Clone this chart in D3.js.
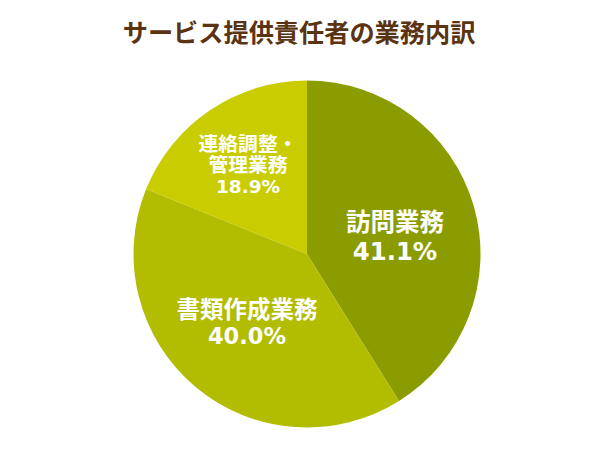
<!DOCTYPE html>
<html><head><meta charset="utf-8">
<script src="https://cdn.jsdelivr.net/npm/d3@7"></script>
<style>body{margin:0;background:#fff}svg{display:block}</style>
</head><body>
<svg id="c" width="600" height="450"></svg>
<script>
const title = "サービス提供責任者の業務内訳";
const categories = ["訪問業務", "書類作成業務", "連絡調整・管理業務"];
const labelLines = [["訪問業務"], ["書類作成業務"], ["連絡調整・", "管理業務"]];
const values = [41.1, 40.0, 18.9];
const colors = ["#8b9c00", "#b2bc00", "#c9cd00"];

const svg = d3.select("#c");
const cx = 307, cy = 254, r = 173.5;
svg.append("text").attr("x", 299).attr("y", 42).attr("text-anchor", "middle")
  .attr("font-family", "Noto Sans CJK JP").attr("font-weight", "bold")
  .attr("font-size", 25.2).attr("fill", "#5a3412").text(title);

const pie = d3.pie().sort(null).value(d => d)(values);
const arc = d3.arc().innerRadius(0).outerRadius(r);
const g = svg.append("g").attr("transform", `translate(${cx},${cy})`);
g.selectAll("path").data(pie).join("path").attr("d", arc).attr("fill", (d, i) => colors[i]);

const labelX = [88, -60, -59];
const labelY = [[-23, 6], [64, 90], [-103, -82, -61]];
const cjkSize = [24.5, 23.5, 19.8];
const pctSize = [24.3, 22.5, 18.5];
pie.forEach((d, i) => {
  const lines = labelLines[i].concat([values[i].toFixed(1) + "%"]);
  lines.forEach((l, k) => {
    const isPct = k === lines.length - 1;
    g.append("text").attr("text-anchor", "middle")
      .attr("x", labelX[i]).attr("y", labelY[i][k])
      .attr("font-family", isPct ? "DejaVu Sans" : "Noto Sans CJK JP")
      .attr("font-weight", "bold")
      .attr("font-size", isPct ? pctSize[i] : cjkSize[i])
      .attr("fill", "#fff").text(l);
  });
});
</script>
</body></html>
